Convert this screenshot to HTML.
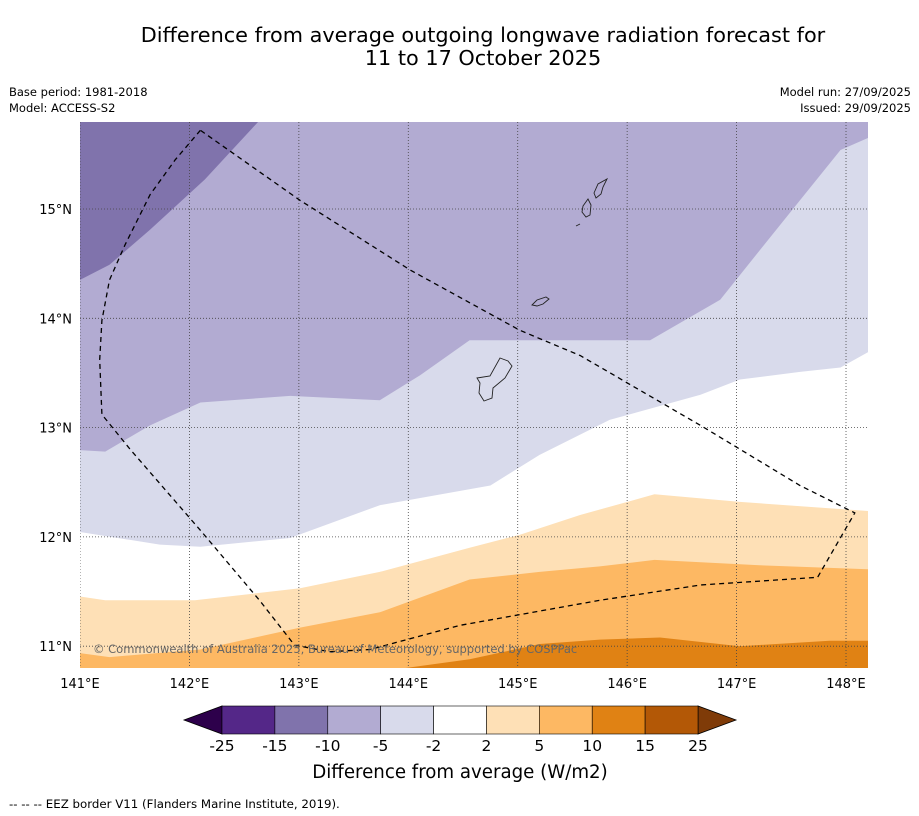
<!DOCTYPE html>
<html><head><meta charset="utf-8"><style>
body{margin:0;background:#fff;font-family:"Liberation Sans","DejaVu Sans",sans-serif;}
</style></head><body>
<svg id="chart" width="919" height="816" xmlns="http://www.w3.org/2000/svg" style="display:block;font-family:'DejaVu Sans','Liberation Sans',sans-serif">
<text x="483" y="42" font-size="20.8" text-anchor="middle">Difference from average outgoing longwave radiation forecast for</text>
<text x="483" y="65" font-size="20.8" text-anchor="middle">11 to 17 October 2025</text>
<text x="9" y="96" font-size="11.5">Base period: 1981-2018</text>
<text x="9" y="112" font-size="11.5">Model: ACCESS-S2</text>
<text x="911" y="96" font-size="11.5" text-anchor="end">Model run: 27/09/2025</text>
<text x="911" y="112" font-size="11.5" text-anchor="end">Issued: 29/09/2025</text>
<defs><clipPath id="mapclip"><rect x="80" y="122" width="788" height="546"/></clipPath></defs>
<g id="map" clip-path="url(#mapclip)"></g>
<g id="axes"></g>
<g id="cbar"></g>
<text x="460" y="778" font-size="18.2" text-anchor="middle">Difference from average (W/m2)</text>
<text x="9" y="808" font-size="11.8">--  --  -- EEZ border V11 (Flanders Marine Institute, 2019).</text>
</svg>
<script>
const bandColors=["#8073ac","#b2abd2","#d8daeb","#ffffff","#fee0b6","#fdb863","#e08214"];
const boundary1=[[140.9,14.3],[141.27,14.49],[141.64,14.81],[142.14,15.27],[142.63,15.8],[142.7,15.9],[148.3,15.9]];
const boundary2=[[140.9,12.8],[141.23,12.78],[141.64,13.02],[142.10,13.23],[142.92,13.29],[143.74,13.25],[144.11,13.48],[144.56,13.80],[146.21,13.80],[146.85,14.17],[147.21,14.62],[147.58,15.08],[147.95,15.54],[148.2,15.65],[148.3,15.7]];
const boundary3=[[140.9,12.06],[141.73,11.93],[142.10,11.91],[142.92,11.99],[143.74,12.29],[144.75,12.47],[145.2,12.75],[145.84,13.07],[146.67,13.30],[147.03,13.44],[147.58,13.51],[147.95,13.55],[148.2,13.69],[148.3,13.75]];
const boundary4=[[140.9,11.47],[141.23,11.42],[142.05,11.42],[143.01,11.53],[143.74,11.68],[144.56,11.90],[145.02,12.02],[145.57,12.20],[146.25,12.39],[147.03,12.32],[148.3,12.23]];
const boundary5=[[140.9,10.95],[141.27,10.90],[142.10,10.97],[143.01,11.17],[143.74,11.31],[144.56,11.61],[145.2,11.68],[145.75,11.73],[146.25,11.79],[147.21,11.74],[148.3,11.70]];
const boundary6=[[143.97,10.80],[144.56,10.88],[145.2,11.02],[145.75,11.06],[146.3,11.08],[147.03,11.00],[147.85,11.05],[148.3,11.05]];
const eezLine=[[142.10,15.72],[141.87,15.45],[141.64,15.13],[141.41,14.67],[141.27,14.35],[141.20,13.98],[141.18,13.62],[141.20,13.12],[141.46,12.80],[142.10,12.06],[142.64,11.42],[142.96,11.01],[143.28,10.95],[143.65,10.97],[144.47,11.19],[145.75,11.42],[146.67,11.56],[147.74,11.63],[148.08,12.22],[147.58,12.47],[146.67,13.02],[145.57,13.66],[145.02,13.89],[144.02,14.44],[143.01,15.08],[142.10,15.72]];
const lonTicks=[141,142,143,144,145,146,147,148];
const latTicks=[11,12,13,14,15];
const cbarLevels=[-25,-15,-10,-5,-2,2,5,10,15,25];
const cbarColors=["#542788","#8073ac","#b2abd2","#d8daeb","#ffffff","#fee0b6","#fdb863","#e08214","#b35806"];

const NS="http://www.w3.org/2000/svg";
const xLon=lon=>80+(lon-141)*109.43;
const yLat=lat=>209-(lat-15)*109.3;
function mk(tag,attrs,parent){const e=document.createElementNS(NS,tag);for(const k in attrs)e.setAttribute(k,attrs[k]);parent.appendChild(e);return e;}
const map=document.getElementById('map');
const r=mk('rect',{x:80,y:122,width:788,height:546,fill:bandColors[0]},map);


const bounds=[boundary1,boundary2,boundary3,boundary4,boundary5,boundary6];
const bandNames=['band-minus10-to-minus5','band-minus5-to-minus2','band-minus2-to-2','band-2-to-5','band-5-to-10','band-10-to-15'];
bounds.forEach((b,i)=>{
  const pts=b.concat([[148.3,10.6],[140.9,10.6]]).map(p=>xLon(p[0]).toFixed(1)+','+yLat(p[1]).toFixed(1)).join(' ');
  const p=mk('polygon',{points:pts,fill:bandColors[i+1]},map);
  
  
});
lonTicks.forEach(l=>{const g=mk('line',{x1:xLon(l),x2:xLon(l),y1:122,y2:668,stroke:'#444','stroke-width':0.8,'stroke-dasharray':'1,2'},map);

});
latTicks.forEach(l=>{const g=mk('line',{x1:80,x2:868,y1:yLat(l),y2:yLat(l),stroke:'#444','stroke-width':0.8,'stroke-dasharray':'1,2'},map);

});
const islands=["M477,378 L490,376 L500,358 L508,361 L512,366 L505,378 L493,388 L492,398 L484,401 L479,393 L480,383 Z","M532,305 L537,300 L546,297 L549,299 L543,304 L537,306 Z","M594,193 L598,184 L607,179 L603,187 L601,194 L596,198 Z","M583,206 L588,199 L591,205 L590,215 L586,217 L582,212 Z","M576,226 L580,224"];
islands.forEach(d=>{const p=mk('path',{d:d,fill:'none',stroke:'#222','stroke-width':0.9},map);

});
const eez=mk('polyline',{points:eezLine.map(p=>xLon(p[0]).toFixed(1)+','+yLat(p[1]).toFixed(1)).join(' '),fill:'none',stroke:'#000','stroke-width':1.3,'stroke-dasharray':'5,4'},map);


const cp=mk('text',{x:93,y:653,'font-size':11.5,fill:'#666'},map);
cp.textContent='© Commonwealth of Australia 2025, Bureau of Meteorology, supported by COSPPac';


const axes=document.getElementById('axes');
lonTicks.forEach(l=>{const t=mk('text',{x:xLon(l),y:688,'font-size':13,'text-anchor':'middle'},axes);t.textContent=l+'°E';

});
latTicks.forEach(l=>{const t=mk('text',{x:72,y:yLat(l)+5,'font-size':13,'text-anchor':'end'},axes);t.textContent=l+'°N';

});
const cb=document.getElementById('cbar');
const cx=i=>222+i*(476/(cbarLevels.length-1));
const y0=706,y1=734;
const lt=mk('polygon',{points:`184,720 222,${y0} 222,${y1}`,fill:'#2d004b',stroke:'#000','stroke-width':0.8},cb);


const rt=mk('polygon',{points:`736,720 698,${y0} 698,${y1}`,fill:'#7f3b08',stroke:'#000','stroke-width':0.8},cb);


cbarColors.forEach((c,i)=>{const s=mk('rect',{x:cx(i),y:y0,width:cx(i+1)-cx(i),height:y1-y0,fill:c,stroke:'#000','stroke-width':0.6},cb);

});
cbarLevels.forEach((v,i)=>{const t=mk('text',{x:cx(i),y:751,'font-size':15.5,'text-anchor':'middle'},cb);t.textContent=v;

});
</script>
</body></html>
